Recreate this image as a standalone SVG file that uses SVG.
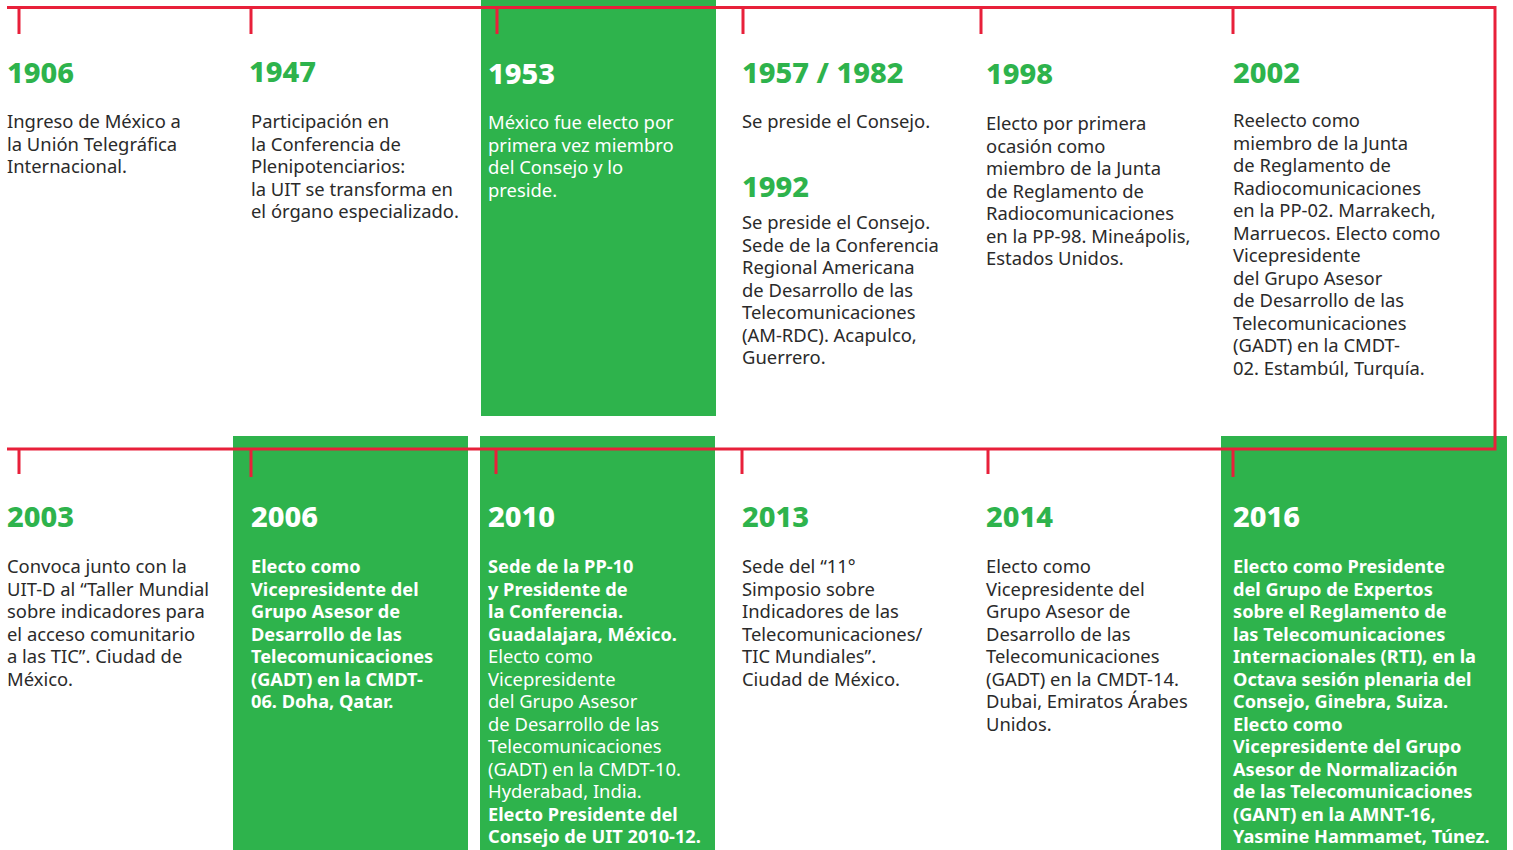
<svg xmlns="http://www.w3.org/2000/svg" width="1513" height="850" viewBox="0 0 1513 850">
<style>
.bg{fill:#2eb34c}
.yr{font-family:"Noto Sans",sans-serif;font-weight:800;font-size:29px;fill:#2eb34c}
.yrw{font-family:"Noto Sans",sans-serif;font-weight:800;font-size:29px;fill:#ffffff}
.t{font-family:"Noto Sans",sans-serif;font-size:18.4px;fill:#2a2a2a}
.tw{font-family:"Noto Sans",sans-serif;font-size:18.4px;fill:#ffffff}
.b{font-weight:700;font-size:18.2px}
.ln{stroke:#e8203a;stroke-width:3;fill:none}
</style>
<rect class="bg" x="481" y="0" width="235" height="416"/>
<rect class="bg" x="233" y="436" width="235" height="414"/>
<rect class="bg" x="480" y="436" width="235" height="414"/>
<rect class="bg" x="1221" y="436" width="286" height="414"/>
<g id="connectors">
<path class="ln" d="M7 7.5H1495V449H7"/>
<path class="ln" d="M19 7.5V34M251 7.5V34M497 7.5V34M743 7.5V34M981 7.5V34M1233 7.5V34"/>
<path class="ln" d="M19 449V474M251 449V477M496 449V474M742 449V474M988 449V474M1233 449V477"/>
</g>
<g id="n1906">
<text class="yr" x="7" y="83">1906</text>
<text class="t" x="7" y="128">Ingreso de México a</text>
<text class="t" x="7" y="150.5">la Unión Telegráfica</text>
<text class="t" x="7" y="173">Internacional.</text>
</g>
<g id="n1947">
<text class="yr" x="249" y="82">1947</text>
<text class="t" x="251" y="128">Participación en</text>
<text class="t" x="251" y="150.5">la Conferencia de</text>
<text class="t" x="251" y="173">Plenipotenciarios:</text>
<text class="t" x="251" y="195.5">la UIT se transforma en</text>
<text class="t" x="251" y="218">el órgano especializado.</text>
</g>
<g id="n1953">
<text class="yrw" x="488" y="84">1953</text>
<text class="tw" x="488" y="129">México fue electo por</text>
<text class="tw" x="488" y="151.5">primera vez miembro</text>
<text class="tw" x="488" y="174">del Consejo y lo</text>
<text class="tw" x="488" y="196.5">preside.</text>
</g>
<g id="n1957">
<text class="yr" x="742" y="83">1957 / 1982</text>
<text class="t" x="742" y="128">Se preside el Consejo.</text>
<text class="yr" x="742" y="197">1992</text>
<text class="t" x="742" y="229">Se preside el Consejo.</text>
<text class="t" x="742" y="251.5">Sede de la Conferencia</text>
<text class="t" x="742" y="274">Regional Americana</text>
<text class="t" x="742" y="296.5">de Desarrollo de las</text>
<text class="t" x="742" y="319">Telecomunicaciones</text>
<text class="t" x="742" y="341.5">(AM-RDC). Acapulco,</text>
<text class="t" x="742" y="364">Guerrero.</text>
</g>
<g id="n1998">
<text class="yr" x="986" y="84">1998</text>
<text class="t" x="986" y="130">Electo por primera</text>
<text class="t" x="986" y="152.5">ocasión como</text>
<text class="t" x="986" y="175">miembro de la Junta</text>
<text class="t" x="986" y="197.5">de Reglamento de</text>
<text class="t" x="986" y="220">Radiocomunicaciones</text>
<text class="t" x="986" y="242.5">en la PP-98. Mineápolis,</text>
<text class="t" x="986" y="265">Estados Unidos.</text>
</g>
<g id="n2002">
<text class="yr" x="1233" y="83">2002</text>
<text class="t" x="1233" y="127">Reelecto como</text>
<text class="t" x="1233" y="149.5">miembro de la Junta</text>
<text class="t" x="1233" y="172">de Reglamento de</text>
<text class="t" x="1233" y="194.5">Radiocomunicaciones</text>
<text class="t" x="1233" y="217">en la PP-02. Marrakech,</text>
<text class="t" x="1233" y="239.5">Marruecos. Electo como</text>
<text class="t" x="1233" y="262">Vicepresidente</text>
<text class="t" x="1233" y="284.5">del Grupo Asesor</text>
<text class="t" x="1233" y="307">de Desarrollo de las</text>
<text class="t" x="1233" y="329.5">Telecomunicaciones</text>
<text class="t" x="1233" y="352">(GADT) en la CMDT-</text>
<text class="t" x="1233" y="374.5">02. Estambúl, Turquía.</text>
</g>
<g id="n2003">
<text class="yr" x="7" y="527">2003</text>
<text class="t" x="7" y="573">Convoca junto con la</text>
<text class="t" x="7" y="595.5">UIT-D al “Taller Mundial</text>
<text class="t" x="7" y="618">sobre indicadores para</text>
<text class="t" x="7" y="640.5">el acceso comunitario</text>
<text class="t" x="7" y="663">a las TIC”. Ciudad de</text>
<text class="t" x="7" y="685.5">México.</text>
</g>
<g id="n2006">
<text class="yrw" x="251" y="527">2006</text>
<text class="tw b" x="251" y="573">Electo como</text>
<text class="tw b" x="251" y="595.5">Vicepresidente del</text>
<text class="tw b" x="251" y="618">Grupo Asesor de</text>
<text class="tw b" x="251" y="640.5">Desarrollo de las</text>
<text class="tw b" x="251" y="663">Telecomunicaciones</text>
<text class="tw b" x="251" y="685.5">(GADT) en la CMDT-</text>
<text class="tw b" x="251" y="708">06. Doha, Qatar.</text>
</g>
<g id="n2010">
<text class="yrw" x="488" y="527">2010</text>
<text class="tw b" x="488" y="573">Sede de la PP-10</text>
<text class="tw b" x="488" y="595.5">y Presidente de</text>
<text class="tw b" x="488" y="618">la Conferencia.</text>
<text class="tw b" x="488" y="640.5">Guadalajara, México.</text>
<text class="tw" x="488" y="663">Electo como</text>
<text class="tw" x="488" y="685.5">Vicepresidente</text>
<text class="tw" x="488" y="708">del Grupo Asesor</text>
<text class="tw" x="488" y="730.5">de Desarrollo de las</text>
<text class="tw" x="488" y="753">Telecomunicaciones</text>
<text class="tw" x="488" y="775.5">(GADT) en la CMDT-10.</text>
<text class="tw" x="488" y="798">Hyderabad, India.</text>
<text class="tw b" x="488" y="820.5">Electo Presidente del</text>
<text class="tw b" x="488" y="843">Consejo de UIT 2010-12.</text>
</g>
<g id="n2013">
<text class="yr" x="742" y="527">2013</text>
<text class="t" x="742" y="573">Sede del “11°</text>
<text class="t" x="742" y="595.5">Simposio sobre</text>
<text class="t" x="742" y="618">Indicadores de las</text>
<text class="t" x="742" y="640.5">Telecomunicaciones/</text>
<text class="t" x="742" y="663">TIC Mundiales”.</text>
<text class="t" x="742" y="685.5">Ciudad de México.</text>
</g>
<g id="n2014">
<text class="yr" x="986" y="527">2014</text>
<text class="t" x="986" y="573">Electo como</text>
<text class="t" x="986" y="595.5">Vicepresidente del</text>
<text class="t" x="986" y="618">Grupo Asesor de</text>
<text class="t" x="986" y="640.5">Desarrollo de las</text>
<text class="t" x="986" y="663">Telecomunicaciones</text>
<text class="t" x="986" y="685.5">(GADT) en la CMDT-14.</text>
<text class="t" x="986" y="708">Dubai, Emiratos Árabes</text>
<text class="t" x="986" y="730.5">Unidos.</text>
</g>
<g id="n2016">
<text class="yrw" x="1233" y="527">2016</text>
<text class="tw b" x="1233" y="573">Electo como Presidente</text>
<text class="tw b" x="1233" y="595.5">del Grupo de Expertos</text>
<text class="tw b" x="1233" y="618">sobre el Reglamento de</text>
<text class="tw b" x="1233" y="640.5">las Telecomunicaciones</text>
<text class="tw b" x="1233" y="663">Internacionales (RTI), en la</text>
<text class="tw b" x="1233" y="685.5">Octava sesión plenaria del</text>
<text class="tw b" x="1233" y="708">Consejo, Ginebra, Suiza.</text>
<text class="tw b" x="1233" y="730.5">Electo como</text>
<text class="tw b" x="1233" y="753">Vicepresidente del Grupo</text>
<text class="tw b" x="1233" y="775.5">Asesor de Normalización</text>
<text class="tw b" x="1233" y="798">de las Telecomunicaciones</text>
<text class="tw b" x="1233" y="820.5">(GANT) en la AMNT-16,</text>
<text class="tw b" x="1233" y="843">Yasmine Hammamet, Túnez.</text>
</g>
</svg>
